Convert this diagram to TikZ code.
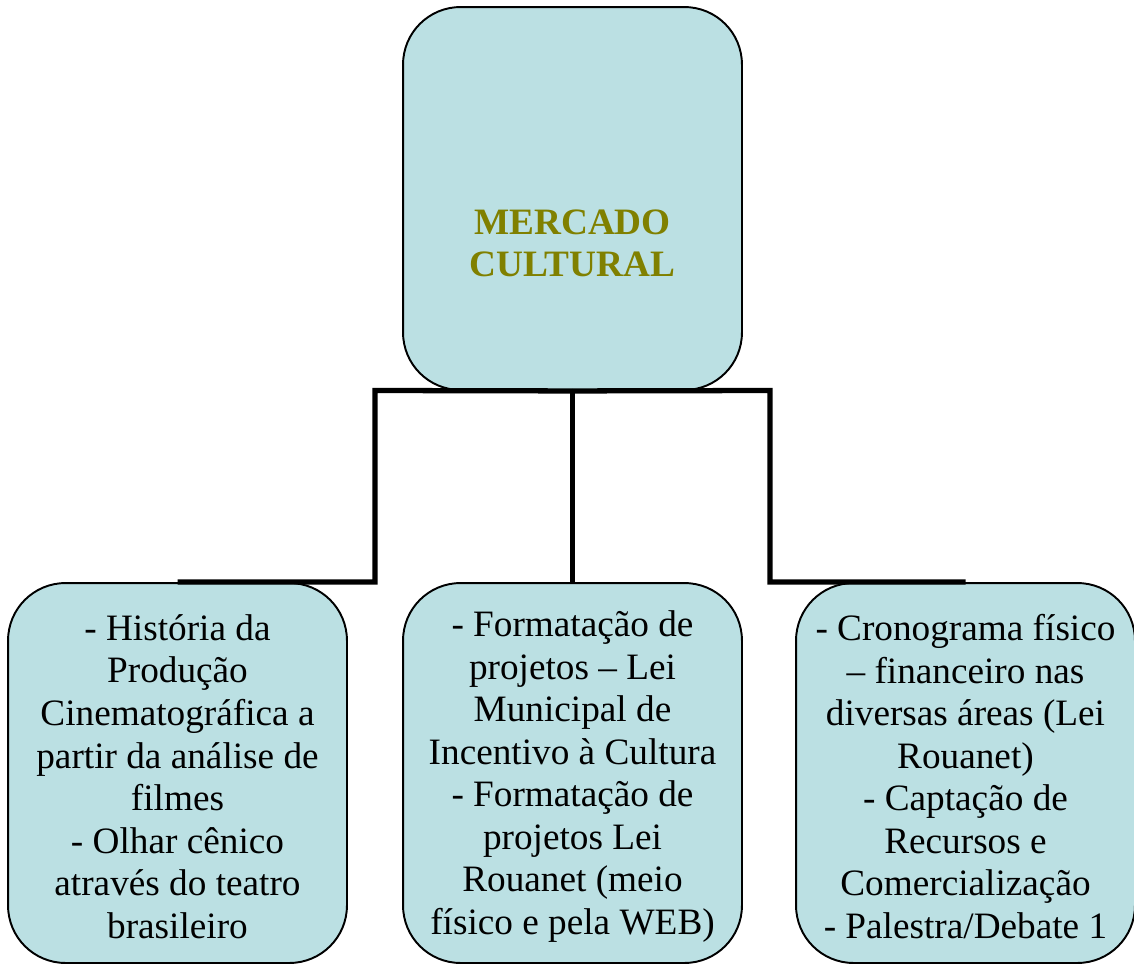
\documentclass[tikz,border=0pt]{standalone}
\usepackage{fontspec}
\setmainfont{Liberation Serif}
\definecolor{boxfill}{HTML}{BBE0E3}
\definecolor{titlecol}{HTML}{808000}
\begin{document}
\begin{tikzpicture}[x=0.02cm,y=-0.02cm,
  box/.style={draw=black, line width=1.1pt, fill=boxfill, rounded corners=1.15cm,
    minimum width=6.78cm, minimum height=7.6cm, inner sep=0pt},
  txt/.style={align=center, inner sep=0pt, font=\fontsize{21.2}{24.2}\selectfont},
  conn/.style={line width=3pt, line join=miter, line cap=butt}]
\useasboundingbox (0,0) rectangle (1134,965);
\coordinate (jl) at (375,390.5);
\coordinate (jr) at (770,390.5);
% boxes
\node[box, minimum height=7.66cm] (top) at (572.5,198.5) {};
\node[box] (lb) at (177.5,773) {};
\node[box] (mb) at (572.5,773) {};
\node[box] (rb) at (965.5,773) {};
% connectors
\draw[conn] (lb.north) -| (jl) -- (top.south);
\draw[conn] (rb.north) -| (jr) -- (top.south);
\draw[conn] (top.south) -- (mb.north);
% texts
\node[txt, font=\fontsize{21.2}{24.2}\selectfont\bfseries, text=titlecol] (title) at (572.5,243.5) {MERCADO\\CULTURAL};
\node[txt] (lt) at (177.5,776.5) {- História da\\Produção\\Cinematográfica a\\partir da análise de\\filmes\\- Olhar cênico\\através do teatro\\brasileiro};
\node[txt] (mt) at (572.5,776.5) {- Formatação de\\projetos – Lei\\Municipal de\\Incentivo à Cultura\\- Formatação de\\projetos Lei\\Rouanet (meio\\físico e pela WEB)};
\node[txt] (rt) at (965.5,776.5) {- Cronograma físico\\– financeiro nas\\diversas áreas (Lei\\Rouanet)\\- Captação de\\Recursos e\\Comercialização\\- Palestra/Debate 1};
\end{tikzpicture}
\end{document}
